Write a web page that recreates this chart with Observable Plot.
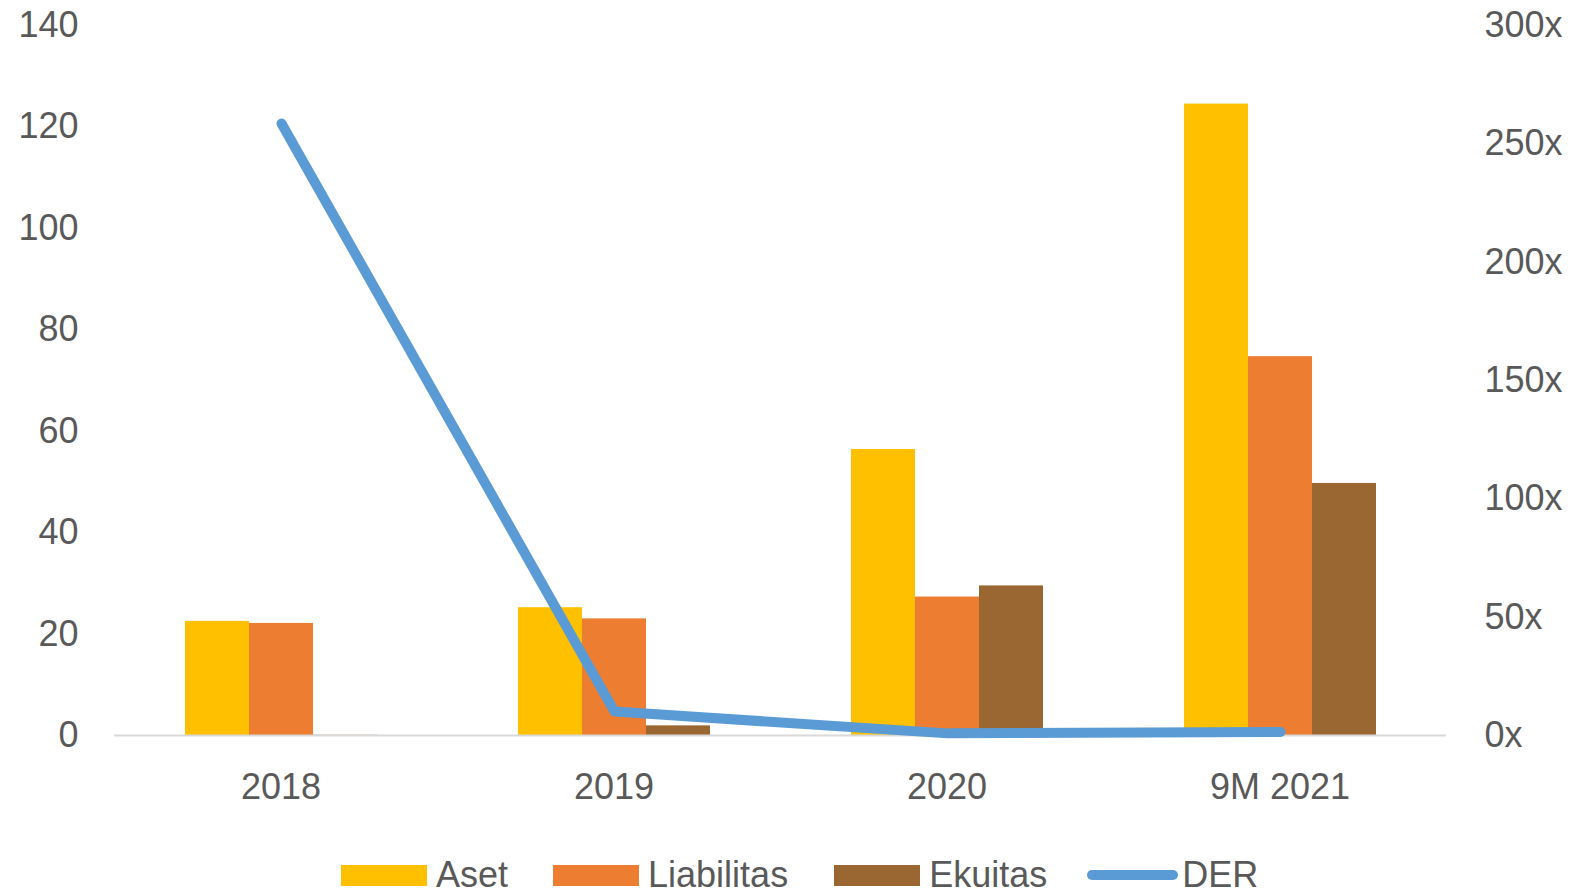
<!DOCTYPE html>
<html>
<head>
<meta charset="utf-8">
<script src="https://cdn.jsdelivr.net/npm/d3@7"></script>
<script src="https://cdn.jsdelivr.net/npm/@observablehq/plot@0.6"></script>
<style>
  html, body { margin: 0; padding: 0; background: white; }
  body { width: 1572px; height: 892px; overflow: hidden; font-family: "Liberation Sans", Arial, sans-serif; }
  #chart { position: relative; width: 1572px; height: 820px; }
  #chart svg { position: absolute; left: 0; top: 0; }
  #legend { position: relative; height: 72px; display: flex; align-items: center; padding-left: 341px; padding-top: 38px; box-sizing: border-box; color: #595959; font-size: 36px; }
  .item { display: flex; align-items: center; }
  .sw { width: 86px; height: 21px; margin-right: 9px; }
  .ln { width: 91px; height: 10px; border-radius: 5px; margin-right: 4px; }
</style>
</head>
<body>
<div id="chart"></div>
<div id="legend"></div>
<script>
const categories = ["2018", "2019", "2020", "9M 2021"];
const seriesNames = ["Aset", "Liabilitas", "Ekuitas"];
const seriesColors = ["#FFC000", "#ED7D31", "#9A6632"];
const aset = [22.5, 25.2, 56.4, 124.5];
const liabilitas = [22.1, 23.0, 27.3, 74.7];
const ekuitas = [0.05, 1.9, 29.5, 49.7];
const der = [258.6, 10.1, 0.9, 1.5];
const derName = "DER";
const derColor = "#5B9BD5";
const leftTicks = [0, 20, 40, 60, 80, 100, 120, 140];
const rightTicks = [0, 50, 100, 150, 200, 250, 300];

const seriesValues = [aset, liabilitas, ekuitas];
const bars = categories.flatMap((c, i) =>
  seriesNames.map((s, j) => ({category: c, series: s, value: seriesValues[j][i]}))
);
const lineData = categories.map((c, i) => ({category: c, der: der[i]}));

const W = 1572, H = 820;
const margins = {marginTop: 25, marginBottom: 85, marginLeft: 114, marginRight: 126};
const baseStyle = {fontFamily: '"Liberation Sans", Arial, sans-serif', fontSize: "36px", color: "#595959", overflow: "visible"};

const main = Plot.plot({
  width: W, height: H, ...margins,
  style: {...baseStyle, background: "white"},
  fx: {domain: categories, padding: 0, label: null, axis: "bottom", tickSize: 0, tickPadding: 38},
  x: {domain: seriesNames, axis: null, paddingInner: 0, paddingOuter: 1.0935},
  y: {domain: [0, 140], ticks: leftTicks, label: null, tickSize: 0, tickPadding: 36},
  color: {domain: seriesNames, range: seriesColors},
  marks: [
    Plot.barY(bars, {fx: "category", x: "series", y: "value", fill: "series"}),
    Plot.ruleY([0], {stroke: "#d9d9d9", strokeWidth: 2})
  ]
});

const overlay = Plot.plot({
  width: W, height: H, ...margins,
  style: {...baseStyle, background: "transparent"},
  x: {type: "point", domain: categories, padding: 0.5, axis: null},
  y: {domain: [0, 300], ticks: rightTicks, axis: "right", label: null, tickSize: 0, tickPadding: 38, tickFormat: d => d + "x"},
  marks: [
    Plot.line(lineData, {x: "category", y: "der", stroke: derColor, strokeWidth: 10, strokeLinecap: "round", strokeLinejoin: "round"})
  ]
});

const chart = document.getElementById("chart");
chart.appendChild(main);
chart.appendChild(overlay);

const legend = document.getElementById("legend");
const gaps = [45, 46, 40];
seriesNames.forEach((s, j) => {
  const it = document.createElement("div");
  it.className = "item";
  it.style.marginRight = gaps[j] + "px";
  it.innerHTML = `<div class="sw" style="background:${seriesColors[j]}"></div><span>${s}</span>`;
  legend.appendChild(it);
});
const it = document.createElement("div");
it.className = "item";
it.innerHTML = `<div class="ln" style="background:${derColor}"></div><span>${derName}</span>`;
legend.appendChild(it);
</script>
</body>
</html>
